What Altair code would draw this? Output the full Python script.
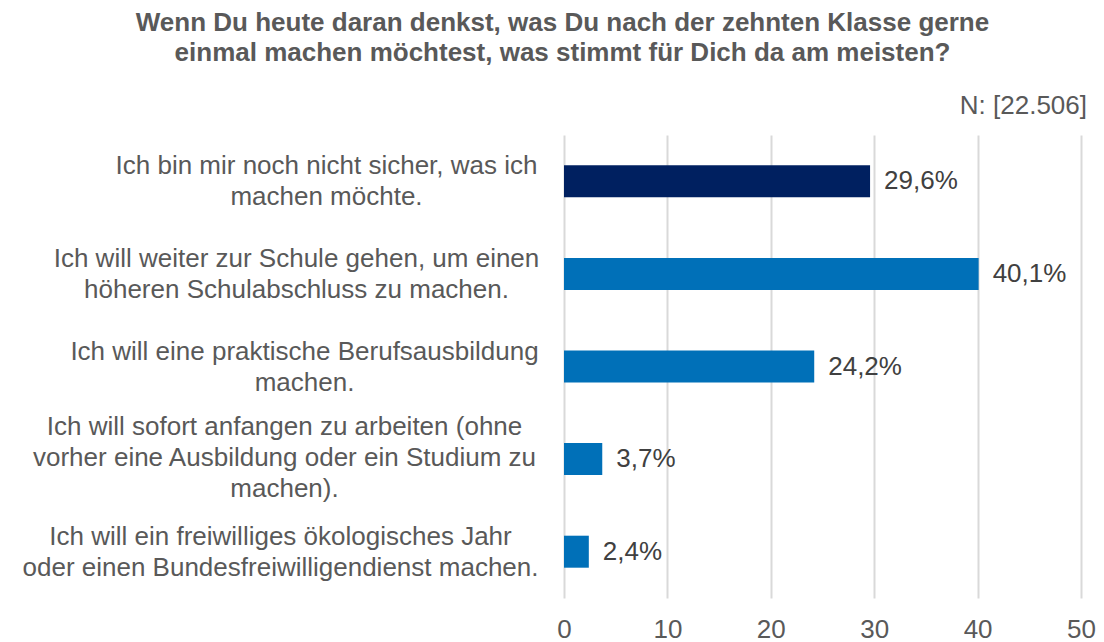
import altair as alt
import pandas as pd

categories = [
    "Ich bin mir noch nicht sicher, was ich\nmachen möchte.",
    "Ich will weiter zur Schule gehen, um einen\nhöheren Schulabschluss zu machen.",
    "Ich will eine praktische Berufsausbildung\nmachen.",
    "Ich will sofort anfangen zu arbeiten (ohne\nvorher eine Ausbildung oder ein Studium zu\nmachen).",
    "Ich will ein freiwilliges ökologisches Jahr\noder einen Bundesfreiwilligendienst machen.",
]
values = [29.6, 40.1, 24.2, 3.7, 2.4]
highlight = [True, False, False, False, False]
title_lines = [
    "Wenn Du heute daran denkst, was Du nach der zehnten Klasse gerne",
    "einmal machen möchtest, was stimmt für Dich da am meisten?",
]
n_text = ["N: [22.506]"]
x_ticks = [0, 10, 20, 30, 40, 50]

df = pd.DataFrame({"cat": categories, "value": values, "hl": highlight})
df_n = pd.DataFrame({"t": n_text})

FONT = "Liberation Sans"
GREY = "#595959"

# per-label padding so that centred multi-line labels end near the plot
pad_conditions = [
    {"test": "indexof(datum.value, 'Ich bin mir') == 0", "value": 238},
    {"test": "indexof(datum.value, 'Ich will weiter') == 0", "value": 268},
    {"test": "indexof(datum.value, 'Ich will eine') == 0", "value": 260},
    {"test": "indexof(datum.value, 'Ich will sofort') == 0", "value": 280},
    {"test": "indexof(datum.value, 'Ich will ein freiwilliges') == 0", "value": 284},
]
# vertical centring of multi-line labels
off_conditions = [
    {"test": "indexof(datum.value, 'Ich will sofort') == 0", "value": -32},
]

y_enc = alt.Y(
    "cat:N",
    sort=categories,
    scale=alt.Scale(paddingInner=0, paddingOuter=0),
    axis=alt.Axis(
        title=None,
        domain=False,
        ticks=False,
        labelExpr="split(datum.label, '\\n')",
        labelAlign="center",
        labelBaseline="middle",
        labelPadding={"condition": pad_conditions, "value": 250},
        labelOffset={"condition": off_conditions, "value": -15},
        labelFont=FONT,
        labelFontSize=26,
        labelColor=GREY,
        labelLineHeight=31,
        labelLimit=700,
    ),
)

x_enc = alt.X(
    "value:Q",
    scale=alt.Scale(domain=[0, 50], nice=False),
    axis=alt.Axis(
        title=None,
        values=x_ticks,
        grid=True,
        gridColor="#D9D9D9",
        gridWidth=2,
        domain=False,
        ticks=False,
        labelFlush=False,
        labelFont=FONT,
        labelFontSize=26,
        labelColor=GREY,
        labelPadding=18,
    ),
)

base = alt.Chart(df)

bars = base.mark_bar(size=32).encode(
    x=x_enc,
    y=y_enc,
    color=alt.condition("datum.hl", alt.value("#002060"), alt.value("#0070B8")),
)

labels = base.transform_calculate(
    lab="replace(format(datum.value, '.1f'), '.', ',') + '%'"
).mark_text(
    align="left", baseline="middle", dx=14, font=FONT, fontSize=26, color="#404040"
).encode(
    x="value:Q",
    y=alt.Y("cat:N", sort=categories),
    text="lab:N",
)

ntext = alt.Chart(df_n).mark_text(
    align="right", baseline="middle", font=FONT, fontSize=26, color=GREY
).encode(
    x=alt.value(523),
    y=alt.value(-29),
    text="t:N",
)

chart = alt.layer(bars, labels, ntext).properties(
    width=517,
    height=463,
    padding={"left": 556, "top": 127, "right": 15, "bottom": 44},
    autosize=alt.AutoSizeParams(type="none"),
    title=alt.TitleParams(
        text=title_lines,
        font=FONT,
        fontSize=26,
        fontWeight="bold",
        color=GREY,
        anchor="middle",
        dx=-260,
        offset=27,
        lineHeight=30,
    ),
).configure(
    background="white",
    view=alt.ViewConfig(stroke=None),
)

chart.save("out.html", embed_options={"renderer": "svg", "actions": False})
